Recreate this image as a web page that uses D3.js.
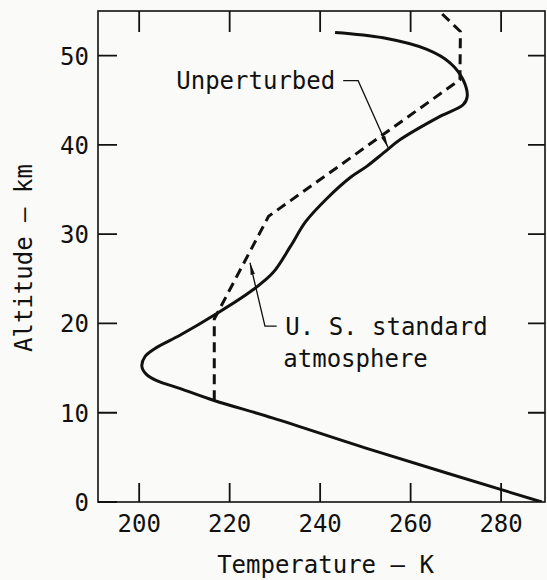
<!DOCTYPE html>
<html>
<head>
<meta charset="utf-8">
<script src="https://cdn.jsdelivr.net/npm/d3@7"></script>
<style>
  html, body { margin: 0; padding: 0; background: #fafaf8; }
  svg { display: block; }
  text { font-family: "DejaVu Sans Mono", monospace; fill: #111; }
</style>
</head>
<body>
<svg id="chart" width="547" height="580"></svg>
<script>
// ---- data ----
const tempTicks = [200, 220, 240, 260, 280];
const altTicks = [0, 10, 20, 30, 40, 50];

// Unperturbed profile (solid): temperature K, altitude km
const unpertT = [289, 251, 229.6, 216.4, 209.1, 203.9, 201.6, 200.6, 201.3, 203.5, 209.1, 216.8, 224.7, 229.6, 233.4, 236.8, 241.5, 246.8, 250.3, 254, 257.7, 266.5, 271.6, 272.5, 271.6, 268.7, 263.6, 253.9, 243.3];
const unpertA = [0, 5.9, 9.4, 11.4, 12.7, 13.6, 14.3, 15.2, 16.3, 17.2, 18.7, 21.0, 23.6, 25.7, 28.6, 31.4, 34.0, 36.4, 37.6, 39.1, 40.6, 43.2, 44.5, 45.4, 47.3, 49.2, 50.7, 52.0, 52.6];

// U.S. standard atmosphere (dashed)
const stdT = [216.6, 216.6, 228.6, 270.9, 271.0, 266.3];
const stdA = [11.4, 20.5, 32.0, 47.3, 52.7, 55.0];

// annotations
const labels = [
  { lines: ["Unperturbed"], T: 208.2, A: 46.3 },
  { lines: ["U. S. standard", "atmosphere"], T: 232.3, A: 18.7 }
];
const leaders = [
  { T: [245.1, 248.4, 255.0], A: [47.2, 47.2, 39.7] },
  { T: [230.4, 227.8, 224.5], A: [19.7, 19.7, 26.8] }
];

// ---- layout ----
const svg = d3.select("#chart");
const pL = 98, pR = 545, pT = 11, pB = 502;
const x = d3.scaleLinear().domain([190.9, 289.7]).range([pL, pR]);
const y = d3.scaleLinear().domain([0, 55]).range([pB, pT]);
const ink = "#111";

const defs = svg.append("defs");
defs.append("clipPath").attr("id", "clip")
  .append("rect").attr("x", pL).attr("y", pT).attr("width", pR - pL).attr("height", pB - pT);

// frame
svg.append("rect").attr("x", pL).attr("y", pT).attr("width", pR - pL).attr("height", pB - pT)
  .attr("fill", "none").attr("stroke", ink).attr("stroke-width", 1.6);

// inward tick marks on all four sides, built as one path from the scales
let tickD = "";
tempTicks.forEach(t => {
  tickD += `M${x(t)},${pB}V${pB - 19}`;
  tickD += `M${x(t)},${pT}V${pT + 21}`;
});
altTicks.forEach(a => {
  tickD += `M${pL},${y(a)}H${pL + 19}`;
  if (a > 0) tickD += `M${pR - 17},${y(a)}H${pR}`;
});
svg.append("path").attr("d", tickD).attr("fill", "none")
  .attr("stroke", ink).attr("stroke-width", 1.8);

// tick labels
svg.selectAll(".xl").data(tempTicks).join("text").attr("class", "xl")
  .attr("x", d => x(d)).attr("y", pB + 30).attr("text-anchor", "middle")
  .attr("font-size", 24).text(d => d);
svg.selectAll(".yl").data(altTicks).join("text").attr("class", "yl")
  .attr("x", pL - 9).attr("y", d => y(d) + 9).attr("text-anchor", "end")
  .attr("font-size", 24).text(d => d);

// curves
const plot = svg.append("g").attr("clip-path", "url(#clip)");

const unpert = unpertT.map((t, i) => [t, unpertA[i]]);
plot.append("path").datum(unpert)
  .attr("d", d3.line().x(d => x(d[0])).y(d => y(d[1])).curve(d3.curveCatmullRom.alpha(0.5)))
  .attr("fill", "none").attr("stroke", ink).attr("stroke-width", 3)
  .attr("stroke-linejoin", "round");

const std = stdT.map((t, i) => [t, stdA[i]]);
plot.append("path").datum(std)
  .attr("d", d3.line().x(d => x(d[0])).y(d => y(d[1])))
  .attr("fill", "none").attr("stroke", ink).attr("stroke-width", 3)
  .attr("stroke-dasharray", "10,6");

// arrow marker
defs.append("marker")
  .attr("id", "arrow").attr("viewBox", "0 0 12 6").attr("refX", 12).attr("refY", 3)
  .attr("markerWidth", 12).attr("markerHeight", 6).attr("markerUnits", "userSpaceOnUse")
  .attr("orient", "auto")
  .append("path").attr("d", "M0,0.8 L12,3 L0,5.2 Z").attr("fill", ink);

leaders.forEach(l => {
  svg.append("path").datum(l.T.map((t, i) => [t, l.A[i]]))
    .attr("d", d3.line().x(d => x(d[0])).y(d => y(d[1])))
    .attr("fill", "none").attr("stroke", ink).attr("stroke-width", 1.3)
    .attr("marker-end", "url(#arrow)");
});

labels.forEach(lb => {
  const t = svg.append("text").attr("x", x(lb.T)).attr("y", y(lb.A)).attr("font-size", 24);
  lb.lines.forEach((s, i) => {
    t.append("tspan").attr("x", x(lb.T) - (i > 0 ? 2 : 0)).attr("dy", i === 0 ? 0 : 32).text(s);
  });
});

// axis titles
svg.append("text").attr("x", (pL + pR) / 2 + 4).attr("y", 573)
  .attr("text-anchor", "middle").attr("font-size", 24).text("Temperature — K");
svg.append("text").attr("transform", "translate(32,258) rotate(-90)")
  .attr("text-anchor", "middle").attr("font-size", 24).text("Altitude — km");
</script>
</body>
</html>
